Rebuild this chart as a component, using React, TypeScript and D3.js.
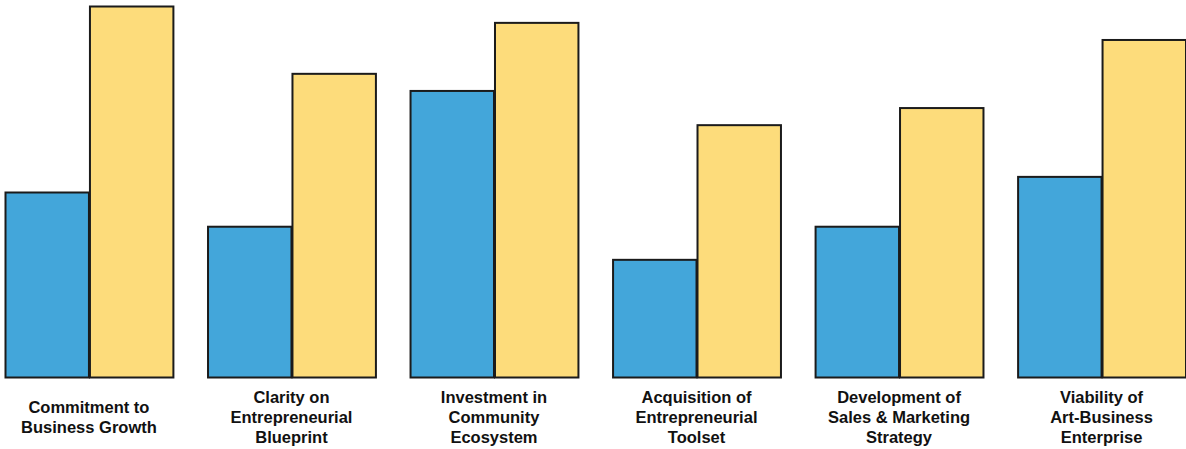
import React from "react";
import * as d3 from "d3";

const categories: string[][] = [
  ["Commitment to", "Business Growth"],
  ["Clarity on", "Entrepreneurial", "Blueprint"],
  ["Investment in", "Community", "Ecosystem"],
  ["Acquisition of", "Entrepreneurial", "Toolset"],
  ["Development of", "Sales & Marketing", "Strategy"],
  ["Viability of", "Art-Business", "Enterprise"],
];
const seriesBlue: number[] = [50, 40.8, 77.3, 31.9, 40.8, 54.2];
const seriesYellow: number[] = [100, 81.9, 95.6, 68.1, 72.7, 91.0];

const W = 1186;
const H = 449;
const BASE = 377.5;
const TOP = 5.5;
const BLUE = "#43A6DA";
const YELLOW = "#FDDC7B";

export default function App() {
  const idx = categories.map((_, i) => String(i));
  const x0 = d3.scaleBand<string>().domain(idx).range([4.5, 1186]).paddingInner(0.166).paddingOuter(0);
  const x1 = d3.scaleBand<string>().domain(["blue", "yellow"]).range([0, x0.bandwidth()]).padding(0);
  const y = d3.scaleLinear().domain([0, 100]).range([BASE, TOP]);
  const lineH = 20;
  const labelCenter = 417.5;

  return (
    <svg
      width={W}
      height={H}
      style={{ position: "fixed", left: 0, top: 0, background: "#fff" }}
      fontFamily="'Liberation Sans', Arial, Helvetica, sans-serif"
    >
      {idx.map((k, i) => {
        const gx = x0(k)!;
        const bars = [
          { key: "blue", v: seriesBlue[i], c: BLUE },
          { key: "yellow", v: seriesYellow[i], c: YELLOW },
        ];
        const lines = categories[i];
        const startY = labelCenter - ((lines.length - 1) * lineH) / 2;
        return (
          <g key={k}>
            {bars.map((b) => (
              <rect
                key={b.key}
                x={gx + x1(b.key)! + 1}
                y={y(b.v) + 1}
                width={x1.bandwidth() - 1}
                height={BASE - y(b.v) - 1}
                fill={b.c}
                stroke="#1b1b1b"
                strokeWidth={2}
              />
            ))}
            <text
              x={gx + x0.bandwidth() / 2}
              textAnchor="middle"
              fontWeight="bold"
              fontSize={16.5}
              fill="#111"
            >
              {lines.map((ln, j) => (
                <tspan key={j} x={gx + x0.bandwidth() / 2} y={startY + j * lineH} dy="0.35em">
                  {ln}
                </tspan>
              ))}
            </text>
          </g>
        );
      })}
    </svg>
  );
}
